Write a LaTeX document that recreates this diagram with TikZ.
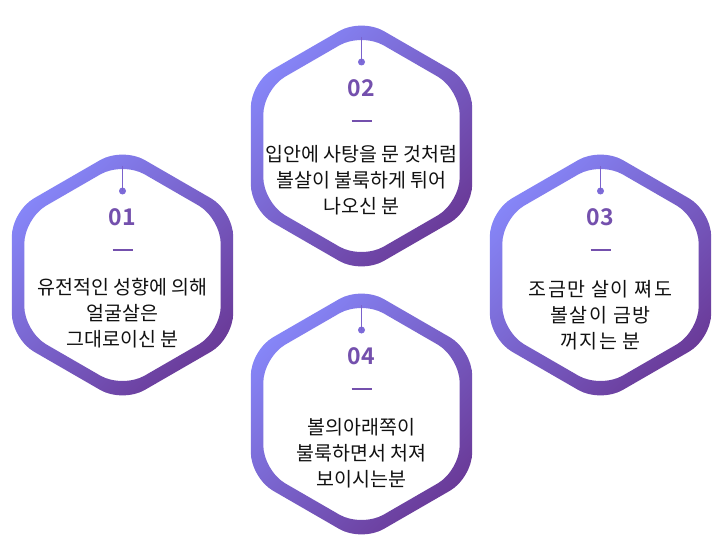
\documentclass[tikz,border=0pt]{standalone}
\usepackage{fontspec}
\newfontfamily\kr{Noto Sans CJK KR}
\newfontfamily\krwide[LetterSpace=7.5]{Noto Sans CJK KR}
\newfontfamily\krb{Noto Sans CJK KR Bold}
\definecolor{hexA}{HTML}{8686F8}
\definecolor{hexB}{HTML}{6A3A98}
\definecolor{numcol}{HTML}{7450AD}
\definecolor{linecol}{HTML}{7A62CC}
\definecolor{dotcol}{HTML}{7C6AD8}
\definecolor{txtcol}{HTML}{111111}
\tikzset{
  hexshade/.style={top color=hexA, bottom color=hexB, shading angle=45},
  numstyle/.style={font=\krb\fontsize{23}{23}\selectfont, text=numcol, inner sep=0pt},
  dotstyle/.style={circle, fill=dotcol, minimum size=7pt, inner sep=0pt},
  linkline/.style={draw=linecol, line width=1.3pt},
  dashbar/.style={draw=numcol, line width=2pt},
  txtstyle/.style={font=\kr\fontsize{19.5}{26}\selectfont, text=txtcol, align=center, inner sep=0pt},
  widetxt/.style={txtstyle, font=\krwide\fontsize{19.5}{26}\selectfont}
}
\newcommand\hexcell[7]{%
  \begin{scope}[shift={(#2,#3)}]
    \shade[hexshade, even odd rule, rounded corners=25.4pt]
      (0:110.7) -- (30:127.8) -- (90:127.8) -- (150:127.8) -- (210:127.8) -- (270:127.8) -- (330:127.8) -- cycle
      (0:98.2) -- (30:113.4) -- (90:113.4) -- (150:113.4) -- (210:113.4) -- (270:113.4) -- (330:113.4) -- cycle;
    \coordinate (t#1) at (0,-109);
    \node[dotstyle] (d#1) at (0,-84) {};
    \draw[linkline] (t#1) -- (d#1.center);
    \node[numstyle] (n#1) at (0,-58) {#4};
    \coordinate (dl#1) at (-10,-25);
    \coordinate (dr#1) at (10,-25);
    \draw[dashbar] (dl#1) -- (dr#1);
    \node[#7] (x#1) at (0,#6) {#5};
  \end{scope}%
}
\begin{document}
\begin{tikzpicture}[x=1pt,y=-1pt]
\fill[white] (0,0) rectangle (723,559);
\useasboundingbox (0,0) rectangle (723,559);
\hexcell{a}{122.5}{275}{01}{유전적인 성향에 의해\\얼굴살은\\그대로이신 분}{38}{txtstyle}
\hexcell{b}{361.5}{146}{02}{입안에 사탕을 문 것처럼\\볼살이 불룩하게 튀어\\나오신 분}{34}{txtstyle}
\hexcell{c}{600.5}{275}{03}{조금만 살이 쪄도\\볼살이 금방\\꺼지는 분}{40}{widetxt}
\hexcell{d}{361.5}{414}{04}{볼의아래쪽이\\불룩하면서 처져\\보이시는분}{39}{txtstyle}
\end{tikzpicture}
\end{document}
